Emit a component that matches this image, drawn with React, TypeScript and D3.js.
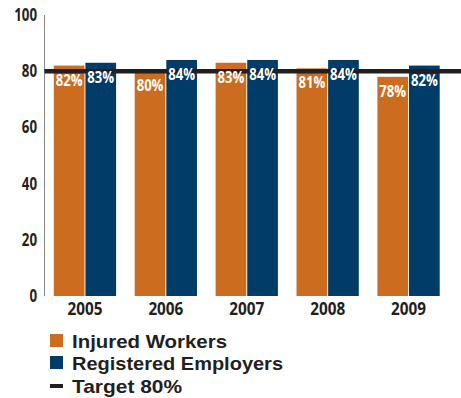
import React from "react";
import * as d3 from "d3";

const years = ["2005", "2006", "2007", "2008", "2009"];
const injuredWorkers = [82, 80, 83, 81, 78];
const registeredEmployers = [83, 84, 84, 84, 82];
const yTicks = [0, 20, 40, 60, 80, 100];
const target = 80;
const seriesNames = ["Injured Workers", "Registered Employers"];
const targetLabel = "Target 80%";

const ORANGE = "#cb6c1e";
const BLUE = "#003c67";
const DARK = "#231f20";
const FONT = "'Open Sans', 'DejaVu Sans', sans-serif";
const LEGEND_FONT = "'Liberation Sans', Arial, sans-serif";

export default function App() {
  const W = 461, H = 398;
  const x0 = d3.scaleBand<string>().domain(years).range([44.5, 449]).paddingInner(0.23).paddingOuter(0.115);
  const x1 = d3.scaleBand<string>().domain(["a", "b"]).range([0, x0.bandwidth()]).paddingInner(0.03);
  const y = d3.scaleLinear().domain([0, 100]).range([296, 15]);
  const series = [injuredWorkers, registeredEmployers];
  const colors = [ORANGE, BLUE];
  const keys = ["a", "b"];

  return (
    <svg width={W} height={H} style={{ position: "absolute", left: 0, top: 0, background: "#fff" }}>
      {/* y axis line */}
      <line x1={44.5} x2={44.5} y1={y(100)} y2={y(0)} stroke="#8a8a8a" strokeWidth={1} />
      {yTicks.map((t) => (
        <text key={t} transform={`translate(37,${y(t) + 6}) scale(0.78,1)`} textAnchor="end" fontFamily={FONT} fontWeight={700}
          fontSize={17} fill={DARK}>
          {t}
        </text>
      ))}
      {years.map((yr, i) => (
        <g key={yr} transform={`translate(${x0(yr)},0)`}>
          {series.map((s, j) => (
            <rect key={j} x={x1(keys[j])} y={y(s[i])} width={x1.bandwidth()} height={y(0) - y(s[i])} fill={colors[j]} />
          ))}
        </g>
      ))}
      {/* target line */}
      <line x1={44.5} x2={461} y1={y(target)} y2={y(target)} stroke={DARK} strokeWidth={4.5} />
      {years.map((yr, i) => (
        <g key={yr + "l"} transform={`translate(${x0(yr)},0)`}>
          {series.map((s, j) => (
            <text key={j}
              transform={`translate(${(x1(keys[j]) as number) + x1.bandwidth() / 2},${y(s[i]) + 20}) scale(0.82,1)`}
              textAnchor="middle" fontFamily={FONT} fontWeight={700} fontSize={16} fill="#fff">
              {s[i]}%
            </text>
          ))}
          <text transform={`translate(${x0.bandwidth() / 2},315) scale(0.9,1)`} textAnchor="middle" fontFamily={FONT} fontWeight={700}
            fontSize={17} fill={DARK}>
            {yr}
          </text>
        </g>
      ))}
      {/* legend */}
      {seriesNames.map((n, j) => (
        <g key={n} transform={`translate(50,${334 + j * 22})`}>
          <rect x={0} y={0} width={13} height={13} fill={colors[j]} />
          <text x={22} y={14} fontFamily={LEGEND_FONT} fontWeight={700} fontSize={19} fill={DARK}
            textLength={j === 0 ? 155 : 211} lengthAdjust="spacingAndGlyphs">{n}</text>
        </g>
      ))}
      <g transform="translate(50,378)">
        <rect x={0} y={6} width={13} height={4} fill={DARK} />
        <text x={22} y={15} fontFamily={LEGEND_FONT} fontWeight={700} fontSize={19} fill={DARK}
          textLength={110} lengthAdjust="spacingAndGlyphs">{targetLabel}</text>
      </g>
    </svg>
  );
}
